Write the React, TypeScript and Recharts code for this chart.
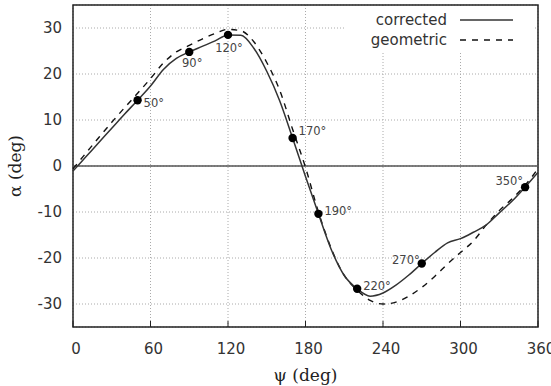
import {
  ComposedChart,
  Line,
  Scatter,
  XAxis,
  YAxis,
  CartesianGrid,
  ReferenceLine,
  ReferenceArea,
} from "recharts";

// psi (deg) sampled every 10 degrees
const psi = [
  0, 10, 20, 30, 40, 50, 60, 70, 80, 90, 100, 110, 120, 130, 140, 150, 160, 170, 180,
  190, 200, 210, 220, 230, 240, 250, 260, 270, 280, 290, 300, 310, 320, 330, 340, 350, 360,
];
const corrected = [
  -1.1, 2.0, 5.1, 8.2, 11.3, 14.3, 17.4, 21.0, 23.4, 24.8, 26.0, 27.2, 28.5, 28.4, 25.6, 20.6, 14.2, 6.1, -2.3,
  -10.4, -18.2, -23.8, -26.7, -28.3, -27.6, -25.9, -23.7, -21.2, -18.8, -16.7, -15.8, -14.4, -12.8, -10.2, -7.6, -4.6, -1.4,
];
const geometric = [
  -0.6, 2.8, 6.2, 9.5, 12.7, 15.8, 19.0, 22.4, 24.8, 26.2, 27.6, 28.8, 29.7, 29.4, 27.0, 22.5, 16.5, 8.0, -0.3,
  -10.0, -18.0, -23.8, -27.0, -29.2, -30.0, -29.6, -28.3, -26.4, -24.0, -21.3, -18.8, -16.3, -12.8, -9.7, -7.1, -4.2, -0.6,
];

// marked points on the corrected curve
const markedPsi = [50, 90, 120, 170, 190, 220, 270, 350];
const markedAlpha = [14.3, 24.8, 28.5, 6.1, -10.4, -26.7, -21.2, -4.6];

const xTicks = [0, 60, 120, 180, 240, 300, 360];
const yTicks = [-30, -20, -10, 0, 10, 20, 30];
const seriesNames = ["corrected", "geometric"];

const rows = psi.map((p, i) => ({ psi: p, corrected: corrected[i], geometric: geometric[i] }));
const marks = markedPsi.map((p, i) => ({ psi: p, alpha: markedAlpha[i] }));

// where each point label sits relative to its marker
const LABEL_POS: Record<number, { dx: number; dy: number; anchor: "start" | "middle" | "end" }> = {
  50: { dx: 6, dy: 3, anchor: "start" },
  90: { dx: 3, dy: 11, anchor: "middle" },
  120: { dx: 1, dy: 13, anchor: "middle" },
  170: { dx: 6, dy: -7, anchor: "start" },
  190: { dx: 6, dy: -3, anchor: "start" },
  220: { dx: 6, dy: -3, anchor: "start" },
  270: { dx: -2, dy: -4, anchor: "end" },
  350: { dx: -2, dy: -6, anchor: "end" },
};

const SANS = "'DejaVu Sans', sans-serif";
const SERIF = "'DejaVu Serif', serif";
const TICK = { fontSize: 15, fill: "#333", fontFamily: SANS };

// eslint-disable-next-line @typescript-eslint/no-explicit-any
const MarkShape = (props: any) => {
  const { cx, cy, payload } = props;
  const pos = LABEL_POS[payload.psi];
  return (
    <g>
      <circle cx={cx} cy={cy} r={4.2} fill="#000" />
      <text
        x={cx + pos.dx}
        y={cy + pos.dy}
        textAnchor={pos.anchor}
        dominantBaseline="central"
        fontSize={11.5}
        fontFamily={SANS}
        fill="#444"
      >
        {payload.psi}°
      </text>
    </g>
  );
};

// eslint-disable-next-line @typescript-eslint/no-explicit-any
const YTitle = ({ viewBox }: any) => {
  const cx = viewBox.x + 15;
  const cy = viewBox.y + viewBox.height / 2;
  return (
    <text
      x={cx}
      y={cy}
      transform={`rotate(-90 ${cx} ${cy})`}
      textAnchor="middle"
      dominantBaseline="central"
      fontSize={17}
      fontFamily={SERIF}
      fill="#222"
    >
      α (deg)
    </text>
  );
};

// eslint-disable-next-line @typescript-eslint/no-explicit-any
const XTitle = ({ viewBox }: any) => (
  <text
    x={viewBox.x + viewBox.width / 2}
    y={viewBox.y + 48}
    textAnchor="middle"
    dominantBaseline="central"
    fontSize={17}
    fontFamily={SERIF}
    fill="#222"
  >
    ψ (deg)
  </text>
);

export default function App() {
  return (
    <div style={{ position: "absolute", left: 0, top: 0, width: 551, height: 386, background: "#fff" }}>
      <ComposedChart width={551} height={386} data={rows} margin={{ top: 5, right: 13, bottom: 0, left: 0 }}>
        <CartesianGrid stroke="#aaa" strokeDasharray="1 2" />
        <XAxis
          dataKey="psi"
          type="number"
          domain={[0, 360]}
          ticks={xTicks}
          height={59}
          axisLine={false}
          tickSize={-6}
          tickMargin={22}
          tickLine={{ stroke: "#222" }}
          tick={{ ...TICK, dx: 3 }}
          label={<XTitle />}
        />
        <XAxis
          xAxisId="top"
          orientation="top"
          type="number"
          domain={[0, 360]}
          ticks={xTicks}
          height={0}
          axisLine={false}
          tickSize={-6}
          tickLine={{ stroke: "#222" }}
          tick={false}
        />
        <YAxis
          type="number"
          domain={[-35, 35]}
          ticks={yTicks}
          width={73}
          axisLine={false}
          tickLine={false}
          tickSize={0}
          tickMargin={11}
          tick={TICK}
          label={<YTitle />}
        />
        <YAxis
          yAxisId="right"
          orientation="right"
          type="number"
          domain={[-35, 35]}
          ticks={yTicks}
          width={0}
          axisLine={false}
          tickSize={-6}
          tickLine={{ stroke: "#222" }}
          tick={false}
        />
        <ReferenceLine y={0} stroke="#555" strokeWidth={1.3} />
        <Line
          dataKey="geometric"
          name={seriesNames[1]}
          type="monotone"
          stroke="#111"
          strokeWidth={1.4}
          strokeDasharray="6 6"
          dot={false}
          isAnimationActive={false}
        />
        <Line
          dataKey="corrected"
          name={seriesNames[0]}
          type="monotone"
          stroke="#333"
          strokeWidth={1.5}
          dot={false}
          isAnimationActive={false}
        />
        <Scatter data={marks} dataKey="alpha" shape={<MarkShape />} isAnimationActive={false} />
        <ReferenceArea x1={0} x2={360} y1={-35} y2={35} fill="none" stroke="#222" strokeWidth={1.5} />
      </ComposedChart>
      <div
        style={{
          position: "absolute",
          left: 345,
          top: 7,
          width: 188,
          height: 44,
          background: "#fff",
          fontFamily: SANS,
          fontSize: 15,
          color: "#333",
        }}
      >
        {seriesNames.map((name, i) => (
          <div key={name} style={{ position: "absolute", top: 3 + i * 20, left: 0, height: 20, display: "flex", alignItems: "center" }}>
            <span style={{ width: 102, textAlign: "right", lineHeight: "20px" }}>{name}</span>
            <svg width={66} height={20} style={{ marginLeft: 13 }}>
              <line
                x1={0}
                x2={53}
                y1={10}
                y2={10}
                stroke={i === 0 ? "#333" : "#111"}
                strokeWidth={1.5}
                strokeDasharray={i === 0 ? undefined : "6 6"}
              />
            </svg>
          </div>
        ))}
      </div>
    </div>
  );
}
